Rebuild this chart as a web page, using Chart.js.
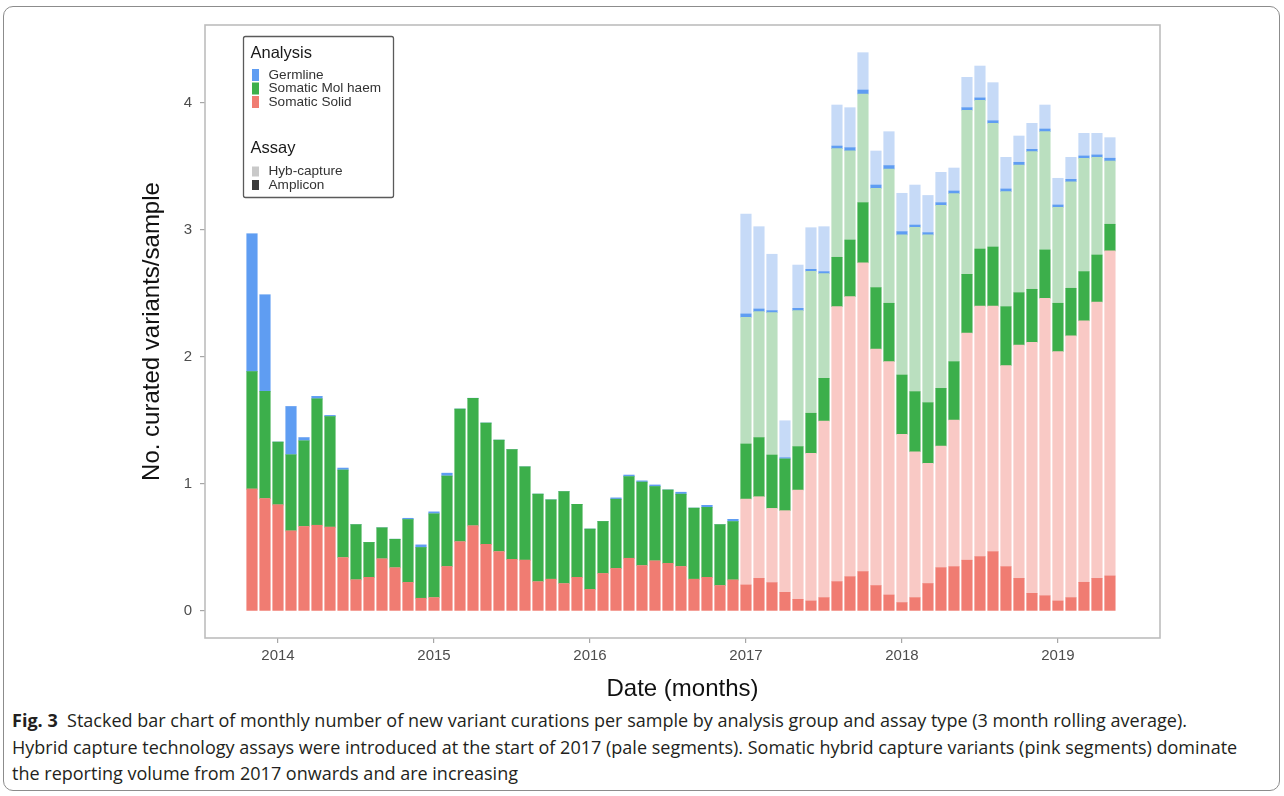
<!DOCTYPE html>
<html>
<head>
<meta charset="utf-8">
<script src="https://cdn.jsdelivr.net/npm/chart.js@4.4.1/dist/chart.umd.min.js"></script>
<style>
  html, body { margin: 0; padding: 0; background: #fff; }
  #wrap { position: relative; width: 1284px; height: 796px; overflow: hidden; background: #fff; }
  #frame { position: absolute; left: 3px; top: 6px; width: 1277px; height: 785px; box-sizing: border-box;
           border: 1.5px solid #8c8c8c; border-radius: 10px; }
  #chart { position: absolute; left: 0; top: 0; }
  #caption { position: absolute; left: 12px; top: 707px; font-family: 'Open Sans', sans-serif; font-size: 16px;
             line-height: 26.5px; color: #231f20; white-space: nowrap; }
  #caption b { font-weight: 700; }
</style>
</head>
<body>
<div id="wrap">
  <div id="frame"></div>
  <canvas id="chart" width="1284" height="705"></canvas>
  <div id="caption">
    <span class="line"><b>Fig. 3</b>&nbsp; Stacked bar chart of monthly number of new variant curations per sample by analysis group and assay type (3 month rolling average).</span><br>
    <span class="line" id="fitLine">Hybrid capture technology assays were introduced at the start of 2017 (pale segments). Somatic hybrid capture variants (pink segments) dominate</span><br>
    <span class="line">the reporting volume from 2017 onwards and are increasing</span>
  </div>
</div>
<script>
// Months, November 2013 to May 2019
const months = [
  '2013-11','2013-12',
  '2014-01','2014-02','2014-03','2014-04','2014-05','2014-06','2014-07','2014-08','2014-09','2014-10','2014-11','2014-12',
  '2015-01','2015-02','2015-03','2015-04','2015-05','2015-06','2015-07','2015-08','2015-09','2015-10','2015-11','2015-12',
  '2016-01','2016-02','2016-03','2016-04','2016-05','2016-06','2016-07','2016-08','2016-09','2016-10','2016-11','2016-12',
  '2017-01','2017-02','2017-03','2017-04','2017-05','2017-06','2017-07','2017-08','2017-09','2017-10','2017-11','2017-12',
  '2018-01','2018-02','2018-03','2018-04','2018-05','2018-06','2018-07','2018-08','2018-09','2018-10','2018-11','2018-12',
  '2019-01','2019-02','2019-03','2019-04','2019-05'
];

// Curated variants per sample (3 month rolling average), by analysis group and assay
const solidAmplicon = [
  0.96,0.885,0.835,0.63,0.665,0.675,0.66,0.42,0.245,0.265,0.41,0.34,0.225,0.10,
  0.105,0.35,0.545,0.67,0.525,0.467,0.407,0.40,0.23,0.25,0.215,0.265,
  0.17,0.295,0.335,0.415,0.357,0.394,0.375,0.35,0.25,0.265,0.20,0.244,
  0.205,0.257,0.223,0.147,0.092,0.079,0.105,0.231,0.27,0.31,0.2,0.126,
  0.066,0.105,0.216,0.341,0.349,0.40,0.428,0.467,0.349,0.257,0.139,0.12,
  0.079,0.105,0.226,0.257,0.276
];
const solidHybCapture = [
  0,0,0,0,0,0,0,0,0,0,0,0,0,0,
  0,0,0,0,0,0,0,0,0,0,0,0,
  0,0,0,0,0,0,0,0,0,0,0,0,
  0.677,0.643,0.585,0.643,0.861,1.163,1.391,2.165,2.205,2.432,1.863,1.837,
  1.325,1.149,0.947,0.958,1.155,1.789,1.972,1.933,1.583,1.837,1.977,2.342,
  1.963,2.061,2.059,2.176,2.559
];
const haemAmplicon = [
  0.925,0.845,0.495,0.60,0.675,0.995,0.87,0.69,0.435,0.275,0.245,0.225,0.495,0.40,
  0.66,0.713,1.045,1.005,0.955,0.878,0.863,0.735,0.69,0.625,0.725,0.575,
  0.475,0.41,0.545,0.643,0.658,0.586,0.578,0.57,0.56,0.551,0.48,0.46,
  0.433,0.465,0.42,0.407,0.341,0.315,0.336,0.389,0.446,0.473,0.483,0.46,
  0.467,0.473,0.477,0.454,0.459,0.462,0.45,0.466,0.464,0.412,0.417,0.381,
  0.381,0.375,0.387,0.37,0.21
];
const haemHybCapture = [
  0,0,0,0,0,0,0,0,0,0,0,0,0,0,
  0,0,0,0,0,0,0,0,0,0,0,0,
  0,0,0,0,0,0,0,0,0,0,0,0,
  0.998,0.992,1.121,0,1.071,1.118,0.824,0.855,0.703,0.856,0.782,1.057,
  1.103,1.294,1.321,1.441,1.323,1.292,1.17,0.974,0.906,1.006,1.084,0.931,
  0.756,0.839,0.893,0.769,0.498
];
const germlineAmplicon = [
  1.085,0.76,0,0.38,0.025,0.02,0.01,0.015,0,0,0,0,0.01,0.02,
  0.015,0.022,0,0,0,0,0,0,0,0,0,0,
  0,0,0.01,0.012,0.009,0.012,0,0.015,0,0.016,0,0.018,
  0.026,0.021,0.016,0.01,0.018,0.015,0.016,0.021,0.024,0.031,0.026,0.027,
  0.026,0.018,0.018,0.021,0.021,0.02,0.02,0.02,0.021,0.021,0.018,0.021,
  0.018,0.019,0.018,0.019,0.022
];
const germlineHybCapture = [
  0,0,0,0,0,0,0,0,0,0,0,0,0,0,
  0,0,0,0,0,0,0,0,0,0,0,0,
  0,0,0,0,0,0,0,0,0,0,0,0,
  0.787,0.648,0.444,0.291,0.341,0.328,0.354,0.323,0.315,0.294,0.268,0.267,
  0.302,0.315,0.293,0.239,0.181,0.239,0.251,0.30,0.249,0.207,0.205,0.189,
  0.21,0.173,0.178,0.17,0.162
];

// Axis tick labels
const yearLabels = ['2014','2015','2016','2017','2018','2019'];
const yTickValues = [0, 1, 2, 3, 4];

// Legend entries
const analysisGroups = ['Germline', 'Somatic Mol haem', 'Somatic Solid'];
const assayTypes = ['Hyb-capture', 'Amplicon'];

const COLORS = {
  germline: '#5f9df2', germlinePale: '#c6daf7',
  haem: '#3caf4b', haemPale: '#badfbf',
  solid: '#f07c72', solidPale: '#f9c9c5'
};

const yearPositions = yearLabels.map(y => months.indexOf(y + '-01'));
const toPoints = arr => arr.map((v, i) => ({ x: i, y: v }));

function series(label, values, color) {
  return { label, data: toPoints(values), backgroundColor: color, borderWidth: 0, barThickness: 10.5 };
}

// Panel border and the two-part legend
const panelAndLegend = {
  id: 'panelAndLegend',
  afterDraw(chart) {
    const { ctx, chartArea: a } = chart;
    ctx.save();
    ctx.strokeStyle = '#bdbdbd';
    ctx.lineWidth = 1.6;
    ctx.strokeRect(a.left, a.top, a.right - a.left, a.bottom - a.top);

    const bx = a.left + 38.5, by = a.top + 11.5, bw = 150, bh = 161;
    ctx.strokeStyle = '#5a5a5a';
    ctx.lineWidth = 1.3;
    ctx.beginPath();
    ctx.roundRect(bx, by, bw, bh, 2);
    ctx.stroke();

    ctx.textBaseline = 'middle';
    ctx.textAlign = 'left';
    const kx = bx + 8.5, tx = bx + 25;
    ctx.fillStyle = '#1a1a1a';
    ctx.font = '16.5px "Liberation Sans", Arial, sans-serif';
    ctx.fillText('Analysis', bx + 7, by + 17);

    const groupColors = [COLORS.germline, COLORS.haem, COLORS.solid];
    ctx.font = '13.6px "Liberation Sans", Arial, sans-serif';
    analysisGroups.forEach((name, i) => {
      const cy = by + 38.5 + i * 13.5;
      ctx.fillStyle = groupColors[i];
      ctx.fillRect(kx, cy - 6, 7, 12);
      ctx.fillStyle = '#333';
      ctx.fillText(name, tx, cy);
    });

    ctx.fillStyle = '#1a1a1a';
    ctx.font = '16.5px "Liberation Sans", Arial, sans-serif';
    ctx.fillText('Assay', bx + 7, by + 112);

    const assayColors = ['#c9c9c9', '#3a3a3a'];
    ctx.font = '13.6px "Liberation Sans", Arial, sans-serif';
    assayTypes.forEach((name, i) => {
      const cy = by + 135 + i * 13.5;
      ctx.fillStyle = assayColors[i];
      ctx.fillRect(kx, cy - 5, 7, 10);
      ctx.fillStyle = '#333';
      ctx.fillText(name, tx, cy);
    });
    ctx.restore();
  }
};

const tickFont = { family: 'Liberation Sans', size: 15 };
const titleFont = { family: 'Liberation Sans', size: 24 };

new Chart(document.getElementById('chart'), {
  type: 'bar',
  data: {
    datasets: [
      series('Somatic Solid – Amplicon', solidAmplicon, COLORS.solid),
      series('Somatic Solid – Hyb-capture', solidHybCapture, COLORS.solidPale),
      series('Somatic Mol haem – Amplicon', haemAmplicon, COLORS.haem),
      series('Somatic Mol haem – Hyb-capture', haemHybCapture, COLORS.haemPale),
      series('Germline – Amplicon', germlineAmplicon, COLORS.germline),
      series('Germline – Hyb-capture', germlineHybCapture, COLORS.germlinePale)
    ]
  },
  options: {
    responsive: false,
    animation: false,
    layout: { padding: { left: 0, right: 124, top: 25, bottom: 0 } },
    plugins: { legend: { display: false }, tooltip: { enabled: false } },
    scales: {
      x: {
        type: 'linear', stacked: true, offset: false,
        min: -3.615, max: 69.85,
        afterBuildTicks: s => { s.ticks = yearPositions.map(v => ({ value: v })); },
        afterFit: s => { s.height = 67; },
        ticks: { callback: (v, i) => yearLabels[i], font: tickFont, color: '#4d4d4d', padding: 4, maxRotation: 0, autoSkip: false },
        grid: { offset: false, drawOnChartArea: false, drawTicks: true, tickLength: 5, color: '#a6a6a6', lineWidth: 1.2 },
        border: { display: false },
        title: { display: true, text: 'Date (months)', font: titleFont, color: '#111', padding: { top: 0, bottom: 1 } }
      },
      y: {
        stacked: true,
        min: -0.2126, max: 4.614,
        afterBuildTicks: s => { s.ticks = yTickValues.map(v => ({ value: v })); },
        afterFit: s => { s.width = 205; },
        ticks: { callback: (v, i) => String(yTickValues[i]), font: tickFont, color: '#4d4d4d', padding: 8 },
        grid: { drawOnChartArea: false, drawTicks: true, tickLength: 5, color: '#a6a6a6', lineWidth: 1.2 },
        border: { display: false },
        title: { display: true, text: 'No. curated variants/sample', font: titleFont, color: '#111', padding: { top: 137.5, bottom: 0 } }
      }
    }
  },
  plugins: [panelAndLegend]
});

// Size the caption so its second line spans the figure width
(function fitCaption() {
  const cap = document.getElementById('caption');
  const line = document.getElementById('fitLine');
  const w = line.getBoundingClientRect().width;
  const target = 1226;
  cap.style.fontSize = (16 * target / w).toFixed(2) + 'px';
})();
</script>
</body>
</html>
